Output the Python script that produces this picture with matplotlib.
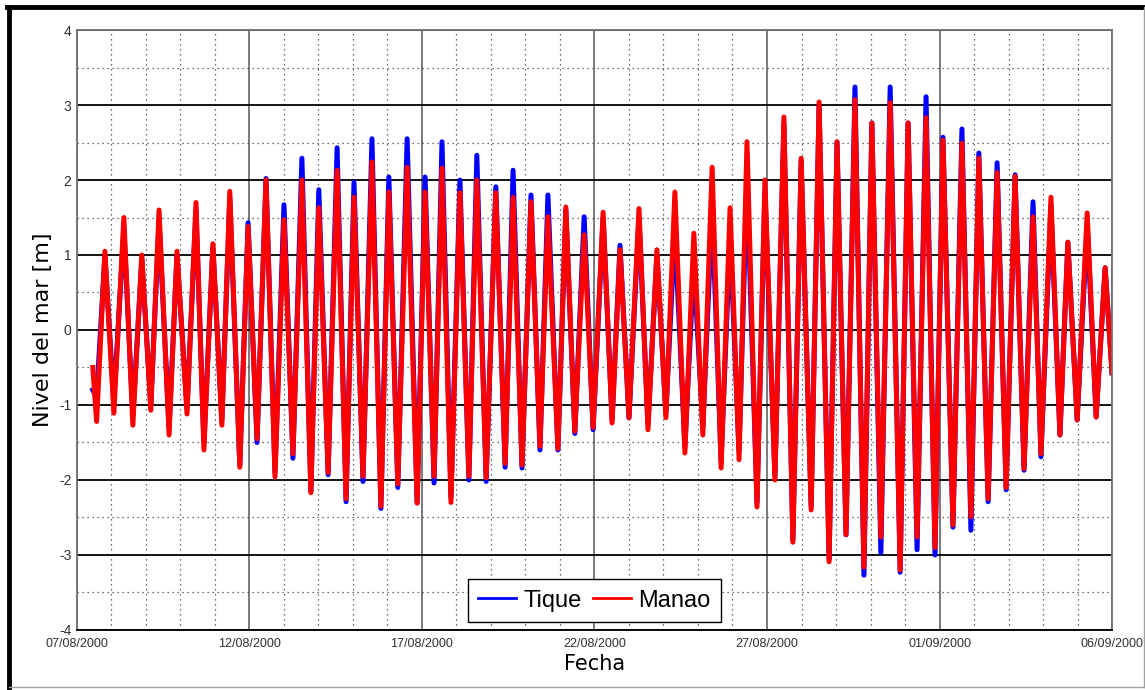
"""
Nivel del mar: Tique vs Manao, 07/08/2000 - 06/09/2000
"""
import matplotlib
matplotlib.use("Agg")
import matplotlib.pyplot as plt
from matplotlib.lines import Line2D
from matplotlib.ticker import MultipleLocator

# extremos de marea (dias desde 07/08/2000 00:00)
t_dias = [
    0.46, 0.57, 0.81, 1.07, 1.36, 1.62, 1.88, 2.14, 2.38, 2.67,
    2.90, 3.19, 3.45, 3.68, 3.94, 4.20, 4.43, 4.72, 4.96, 5.22,
    5.48, 5.74, 6.00, 6.26, 6.52, 6.78, 7.01, 7.28, 7.54, 7.80,
    8.03, 8.29, 8.55, 8.81, 9.04, 9.30, 9.57, 9.86, 10.09, 10.35,
    10.58, 10.84, 11.10, 11.36, 11.59, 11.86, 12.14, 12.41, 12.64, 12.90,
    13.16, 13.42, 13.65, 13.94, 14.17, 14.43, 14.70, 14.96, 15.25, 15.51,
    15.74, 16.00, 16.29, 16.55, 16.81, 17.07, 17.33, 17.62, 17.88, 18.14,
    18.41, 18.67, 18.93, 19.19, 19.42, 19.71, 19.94, 20.23, 20.49, 20.75,
    20.99, 21.28, 21.51, 21.80, 22.03, 22.29, 22.55, 22.81, 23.04, 23.30,
    23.57, 23.86, 24.09, 24.35, 24.61, 24.87, 25.10, 25.39, 25.65, 25.91,
    26.14, 26.41, 26.67, 26.93, 27.19, 27.45, 27.71, 27.94, 28.23, 28.49,
    28.72, 28.99, 29.28, 29.54, 29.80, 30.00,
]

tique = [
    -0.80, -0.90, 1.00, -0.95, 1.35, -1.15, 0.95, -1.00, 1.45, -1.30,
    1.00, -1.05, 1.60, -1.50, 1.10, -1.20, 1.75, -1.80, 1.43, -1.50,
    2.02, -1.90, 1.67, -1.71, 2.29, -2.15, 1.87, -1.93, 2.43, -2.29,
    1.97, -2.02, 2.55, -2.38, 2.04, -2.10, 2.55, -2.30, 2.04, -2.04,
    2.51, -2.23, 2.00, -2.00, 2.33, -2.02, 1.91, -1.83, 2.13, -1.84,
    1.80, -1.60, 1.80, -1.60, 1.60, -1.38, 1.51, -1.33, 1.50, -1.20,
    1.13, -1.17, 1.50, -1.25, 1.00, -1.10, 1.33, -1.55, 0.87, -1.30,
    1.60, -1.75, 1.24, -1.60, 2.00, -2.30, 1.85, -1.95, 2.75, -2.80,
    2.25, -2.35, 3.00, -3.05, 2.50, -2.73, 3.24, -3.27, 2.76, -2.97,
    3.24, -3.23, 2.76, -2.93, 3.11, -3.00, 2.57, -2.63, 2.68, -2.67,
    2.36, -2.29, 2.23, -2.13, 2.07, -1.87, 1.71, -1.69, 1.65, -1.40,
    1.17, -1.20, 1.40, -1.16, 0.83, -0.57,
]

manao = [
    -0.50, -1.22, 1.05, -1.11, 1.50, -1.27, 1.00, -1.07, 1.60, -1.40,
    1.05, -1.12, 1.70, -1.60, 1.15, -1.27, 1.85, -1.83, 1.38, -1.45,
    2.00, -1.96, 1.47, -1.65, 2.00, -2.17, 1.63, -1.90, 2.13, -2.25,
    1.77, -1.95, 2.24, -2.35, 1.84, -2.05, 2.17, -2.31, 1.84, -1.95,
    2.16, -2.30, 1.83, -1.95, 2.00, -1.97, 1.83, -1.78, 1.77, -1.80,
    1.71, -1.55, 1.51, -1.58, 1.64, -1.35, 1.27, -1.30, 1.57, -1.24,
    1.07, -1.17, 1.62, -1.33, 1.07, -1.17, 1.84, -1.64, 1.29, -1.40,
    2.17, -1.84, 1.63, -1.73, 2.51, -2.36, 2.00, -2.00, 2.84, -2.83,
    2.29, -2.40, 3.04, -3.09, 2.51, -2.73, 3.07, -3.16, 2.76, -2.76,
    3.03, -3.20, 2.76, -2.76, 2.83, -2.90, 2.53, -2.60, 2.49, -2.49,
    2.29, -2.25, 2.10, -2.10, 2.05, -1.85, 1.51, -1.65, 1.77, -1.40,
    1.17, -1.20, 1.56, -1.16, 0.83, -0.57,
]

fechas_ticks = [0, 5, 10, 15, 20, 25, 30]
fechas_labels = ["07/08/2000", "12/08/2000", "17/08/2000", "22/08/2000",
                 "27/08/2000", "01/09/2000", "06/09/2000"]
y_ticks = [-4, -3, -2, -1, 0, 1, 2, 3, 4]

fuente_ticks = ["Liberation Sans", "DejaVu Sans"]

fig = plt.figure(figsize=(11.45, 6.9), dpi=100)
ax = fig.add_axes([0.0672, 0.087, 0.904, 0.8695])

ax.plot(t_dias, tique, color="#0000ff", lw=3.6, label="Tique",
        solid_joinstyle="round")
ax.plot(t_dias, manao, color="#ff0000", lw=3.6, label="Manao",
        solid_joinstyle="round")

ax.set_xlim(0, 30)
ax.set_ylim(-4, 4)
ax.set_xticks(fechas_ticks)
ax.set_xticklabels(fechas_labels, family=fuente_ticks, fontsize=9,
                   color="#303030")
ax.set_yticks(y_ticks)
ax.set_yticklabels([str(v) for v in y_ticks], family=fuente_ticks,
                   fontsize=10, color="#303030")
ax.xaxis.set_minor_locator(MultipleLocator(1))
ax.yaxis.set_minor_locator(MultipleLocator(0.5))
ax.tick_params(which="both", length=0)
ax.tick_params(axis="x", pad=6)
ax.tick_params(axis="y", pad=4)

# rejilla principal y secundaria
ax.grid(which="major", axis="y", color="black", lw=1.3, ls="-")
ax.grid(which="major", axis="x", color="#707070", lw=1.3, ls="-")
ax.grid(which="minor", axis="both", color="#404040", lw=0.9, ls=(0, (1, 3)))
ax.set_axisbelow(True)

for lado in ["left", "right", "top"]:
    ax.spines[lado].set_color("#707070")
    ax.spines[lado].set_linewidth(1.3)
ax.spines["bottom"].set_color("black")
ax.spines["bottom"].set_linewidth(1.3)

ax.set_ylabel("Nivel del mar [m]", fontsize=16, labelpad=4)
ax.set_xlabel("Fecha", fontsize=15, labelpad=3)

leg = ax.legend(loc="lower center", bbox_to_anchor=(0.5, 0.013), ncol=2,
                prop={"family": fuente_ticks, "size": 17},
                handlelength=1.6, handletextpad=0.3,
                columnspacing=0.5, borderpad=0.45, borderaxespad=0.0,
                fancybox=False, framealpha=1.0, edgecolor="black")
leg.get_frame().set_linewidth(1.0)
for h in leg.get_lines():
    h.set_linewidth(2.0)

# marco de la figura
fig.add_artist(Line2D([9 / 1145, 9 / 1145], [0.0, 683 / 690],
                      color="black", lw=3.5, transform=fig.transFigure))
fig.add_artist(Line2D([7 / 1145, 1.0], [683 / 690, 683 / 690],
                      color="black", lw=3.5, transform=fig.transFigure))
fig.add_artist(Line2D([1144 / 1145, 1144 / 1145], [3 / 690, 683 / 690],
                      color="#a0a0a0", lw=1.0, transform=fig.transFigure))
fig.add_artist(Line2D([9 / 1145, 1144 / 1145], [3 / 690, 3 / 690],
                      color="#a0a0a0", lw=1.0, transform=fig.transFigure))

fig.savefig("out.png", dpi=100, facecolor="white")
